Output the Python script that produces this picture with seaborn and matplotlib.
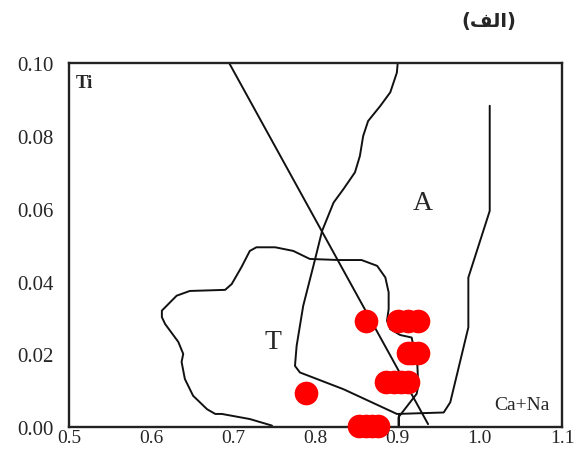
import pandas as pd
import seaborn as sns
import matplotlib.pyplot as plt

# Ti vs Ca+Na discrimination diagram
dot_x = [0.862, 0.900, 0.912, 0.925,
         0.912, 0.918, 0.925,
         0.886, 0.895, 0.904, 0.913,
         0.788,
         0.853, 0.861, 0.869, 0.876]
dot_y = [0.0292, 0.0292, 0.0292, 0.0292,
         0.0204, 0.0204, 0.0204,
         0.0123, 0.0123, 0.0123, 0.0123,
         0.0093,
         0.0004, 0.0004, 0.0004, 0.0004]

# straight divider
line_x = [0.695, 0.937]
line_y = [0.100, 0.0008]

# boundary of the alkaline field (A)
field_a_x = [0.900, 0.899, 0.891, 0.879, 0.864, 0.858, 0.854, 0.848, 0.834, 0.822,
             0.808, 0.799, 0.785, 0.777, 0.775, 0.781, 0.834, 0.899, 0.956, 0.964,
             0.986, 0.986, 1.012, 1.012]
field_a_y = [0.1000, 0.0974, 0.0920, 0.0883, 0.0841, 0.0800, 0.0745, 0.0700, 0.0654, 0.0617,
             0.0539, 0.0457, 0.0333, 0.0223, 0.0168, 0.0150, 0.0104, 0.0036, 0.0040, 0.0068,
             0.0274, 0.0411, 0.0594, 0.0883]

# boundary of the tholeiitic field (T)
field_t_x = [0.747, 0.720, 0.686, 0.678, 0.668, 0.651, 0.641, 0.637, 0.639, 0.633,
             0.617, 0.613, 0.613, 0.631, 0.647, 0.690, 0.698, 0.710, 0.720, 0.728,
             0.751, 0.773, 0.793, 0.828, 0.856, 0.875, 0.885, 0.889, 0.889, 0.887,
             0.891, 0.903, 0.917, 0.924, 0.925, 0.923, 0.901, 0.901]
field_t_y = [0.0004, 0.0022, 0.0036, 0.0036, 0.0049, 0.0086, 0.0132, 0.0179, 0.0201, 0.0234,
             0.0283, 0.0302, 0.0320, 0.0361, 0.0374, 0.0377, 0.0393, 0.0440, 0.0484, 0.0494,
             0.0494, 0.0484, 0.0462, 0.0459, 0.0459, 0.0443, 0.0411, 0.0370, 0.0324, 0.0292,
             0.0269, 0.0253, 0.0246, 0.0168, 0.0113, 0.0091, 0.0027, 0.0000]

x_ticks = [0.5, 0.6, 0.7, 0.8, 0.9, 1.0, 1.1]
y_ticks = [0.00, 0.02, 0.04, 0.06, 0.08, 0.10]

sns.set_style('white')
plt.rcParams['font.family'] = ['Liberation Serif', 'DejaVu Sans']

fig = plt.figure(figsize=(5.8, 4.52), dpi=100)
ax = fig.add_axes([0.119, 0.053, 0.850, 0.805])

for xs, ys in [(line_x, line_y), (field_a_x, field_a_y), (field_t_x, field_t_y)]:
    sns.lineplot(x=xs, y=ys, sort=False, estimator=None, color='#111111',
                 linewidth=1.4, ax=ax)
sns.lineplot(x=[0.901, 0.901], y=[0.0036, 0.0], color='#111111', linewidth=1.4,
             estimator=None, ax=ax)

sns.scatterplot(x=dot_x, y=dot_y, color='#ff0000', s=290, linewidth=0,
                clip_on=False, zorder=3, ax=ax)

ax.set_xlim(0.5, 1.1)
ax.set_ylim(0.0, 0.10)
ax.set_xticks(x_ticks)
ax.set_xticklabels([f'{v:.1f}' for v in x_ticks])
ax.set_yticks(y_ticks)
ax.set_yticklabels([f'{v:.2f}' for v in y_ticks])
ax.tick_params(axis='x', direction='in', length=8, width=1.3, pad=1.5, labelsize=14)
ax.tick_params(axis='y', direction='out', length=8, width=1.3, pad=3, labelsize=15)
for s in ax.spines.values():
    s.set_linewidth(1.7)
    s.set_color('#222222')

ax.text(0.5085, 0.0948, 'Ti', fontsize=13.5, weight='bold', va='center', ha='left')
ax.text(1.051, 0.0061, 'Ca+Na', fontsize=14, va='center', ha='center')
ax.text(0.931, 0.0618, 'A', fontsize=20, va='center', ha='center')
ax.text(0.748, 0.0236, 'T', fontsize=20, va='center', ha='center')

# Persian panel label "(الف)" in presentation forms so it shapes correctly
fig.text(0.843, 0.9535, '(\ufed2\ufedf\ufe8d)', family='DejaVu Sans',
         weight='bold', fontsize=14, ha='center', va='center')

fig.savefig('out.png', dpi=100)
